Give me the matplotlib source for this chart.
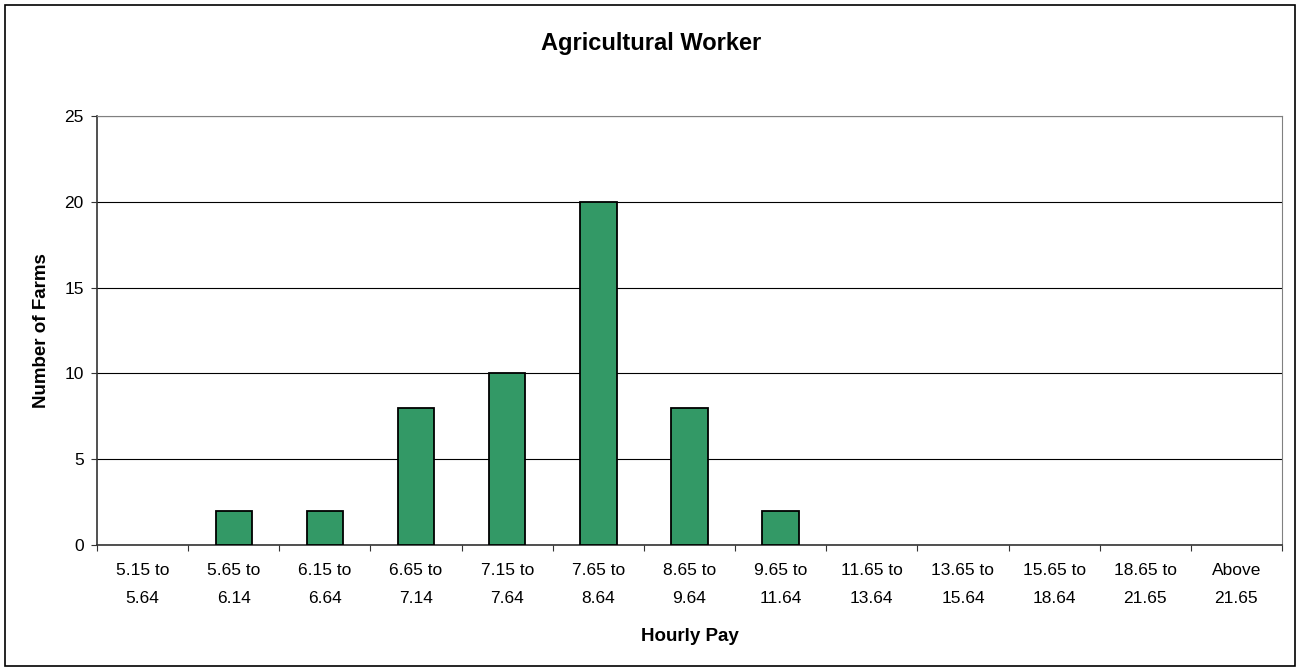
import numpy as np
import matplotlib.pyplot as plt
from matplotlib.patches import Rectangle

plt.rcParams['font.family'] = ['Liberation Sans', 'DejaVu Sans']

categories = ['5.15 to\n5.64', '5.65 to\n6.14', '6.15 to\n6.64', '6.65 to\n7.14', '7.15 to\n7.64',
              '7.65 to\n8.64', '8.65 to\n9.64', '9.65 to\n11.64', '11.65 to\n13.64', '13.65 to\n15.64',
              '15.65 to\n18.64', '18.65 to\n21.65', 'Above\n21.65']
farms = [0, 2, 2, 8, 10, 20, 8, 2, 0, 0, 0, 0, 0]
y_ticks = [0, 5, 10, 15, 20, 25]

W, H = 1302, 671
fig = plt.figure(figsize=(W / 100, H / 100), dpi=100)
ax = fig.add_axes([97 / W, 1 - 545 / H, (1282 - 97) / W, (545 - 116) / H])

# outer chart border
fig.patches.append(Rectangle((5 / W, 5 / H), 1290 / W, 661 / H, transform=fig.transFigure,
                             fill=False, edgecolor='black', linewidth=1.2))

x = np.arange(len(categories))
edge_w = [1.3 if v > 0 else 0 for v in farms]
ax.bar(x, farms, width=0.4, color='#339966', edgecolor='black', linewidth=edge_w, zorder=3)

ax.set_xlim(-0.5, len(categories) - 0.5)
ax.set_ylim(0, 25)
ax.set_yticks(y_ticks)
ax.yaxis.grid(True, color='black', linewidth=0.8, zorder=0)
ax.set_axisbelow(True)

# category boundaries as tick marks, labels centred under bars
ax.set_xticks(np.arange(len(categories) + 1) - 0.5)
ax.set_xticklabels([])
ax.set_xticks(x, minor=True)
ax.set_xticklabels(categories, minor=True, fontsize=12.5, linespacing=2.1)
ax.tick_params(axis='x', which='minor', length=0, pad=13)
ax.tick_params(axis='x', which='major', length=4, color='#333333')
ax.tick_params(axis='y', length=4, labelsize=12.5, pad=5.5, color='#333333')

for side in ['top', 'right']:
    ax.spines[side].set_color('#808080')
for side in ['left', 'bottom']:
    ax.spines[side].set_color('#333333')
    ax.spines[side].set_linewidth(1.2)

fig.text(0.5, 1 - 50 / H, 'Agricultural Worker', fontsize=17, fontweight='bold',
         ha='center', va='baseline')
ax.set_ylabel('Number of Farms', fontsize=13.5, fontweight='bold', labelpad=10)
ax.set_xlabel('Hourly Pay', fontsize=13.5, fontweight='bold', labelpad=16)

fig.savefig('out.png', dpi=100)
